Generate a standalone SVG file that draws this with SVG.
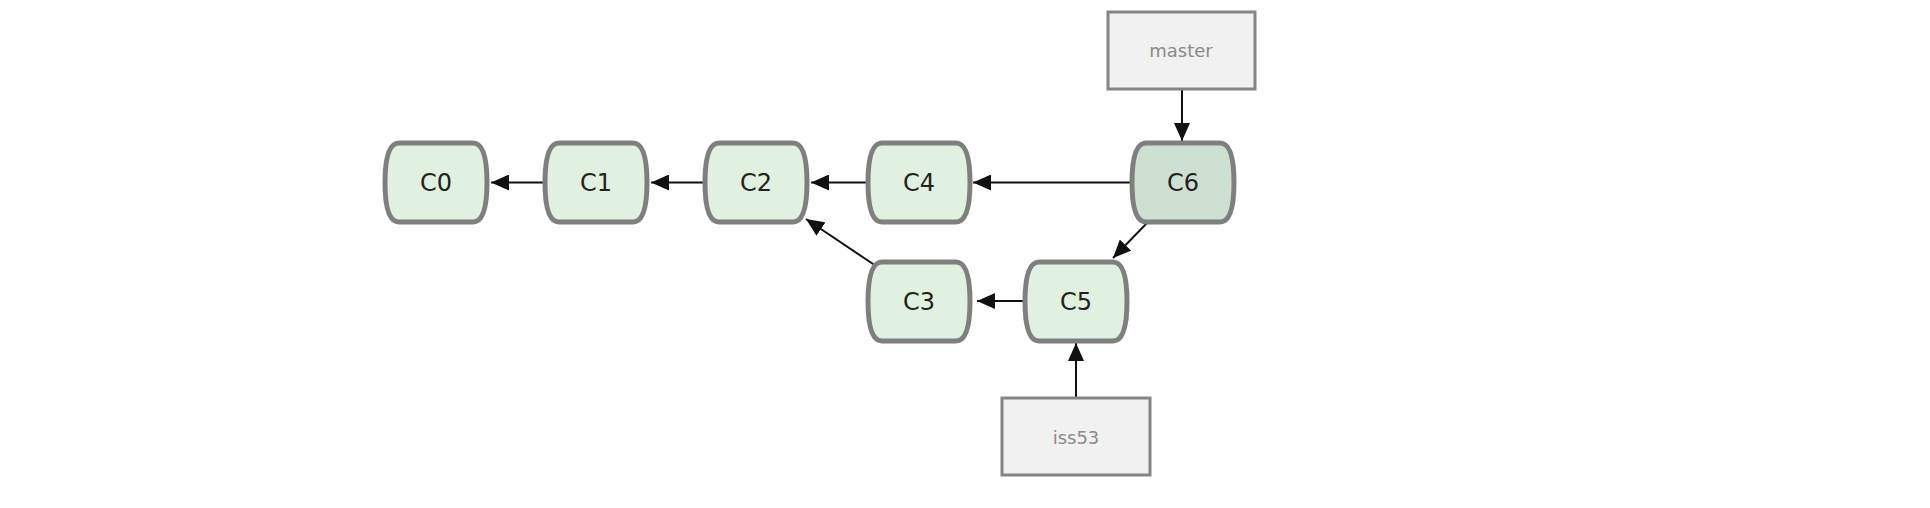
<svg xmlns="http://www.w3.org/2000/svg" width="1930" height="508" viewBox="0 0 1930 508">
<style>
.commit{fill:#e0f1df;stroke:#7f7f7f;stroke-width:5}
.head{fill:#cee0d2}
.ref{fill:#f1f1f1;stroke:#858585;stroke-width:3}
.ct{font-family:"DejaVu Sans",Verdana,sans-serif;font-size:24px;fill:#222;text-anchor:middle;dominant-baseline:central}
.rt{font-family:"DejaVu Sans",Verdana,sans-serif;font-size:18px;fill:#8a8a8a;text-anchor:middle;dominant-baseline:central}
.edge{stroke:#111;stroke-width:2;fill:none;marker-end:url(#ah)}
</style>
<defs>
<marker id="ah" markerUnits="userSpaceOnUse" viewBox="0 0 18 16" refX="18" refY="8" markerWidth="18" markerHeight="16" orient="auto">
<path d="M0,0 L18,8 L0,16 z" fill="#111"/>
</marker>
<path id="shape" d="M14,0 H88 C98,0 102,14 102,39.5 C102,65 98,79 88,79 H14 C4,79 0,65 0,39.5 C0,14 4,0 14,0 Z"/>
</defs>
<rect width="1930" height="508" fill="#fff"/>
<g id="connectors">
<line class="edge" x1="545" y1="182.5" x2="491" y2="182.5"/>
<line class="edge" x1="705" y1="182.5" x2="651" y2="182.5"/>
<line class="edge" x1="867" y1="182.5" x2="811" y2="182.5"/>
<line class="edge" x1="1132" y1="182.5" x2="973" y2="182.5"/>
<line class="edge" x1="1182" y1="89" x2="1182" y2="141"/>
<line class="edge" x1="1148" y1="222" x2="1113" y2="258"/>
<line class="edge" x1="876" y1="266" x2="806" y2="219"/>
<line class="edge" x1="1025" y1="301" x2="977" y2="301"/>
<line class="edge" x1="1076" y1="398" x2="1076" y2="343"/>
</g>
<g id="C0"><use href="#shape" class="commit" x="385" y="143"/><text class="ct" x="436" y="183">C0</text></g>
<g id="C1"><use href="#shape" class="commit" x="545" y="143"/><text class="ct" x="596" y="183">C1</text></g>
<g id="C2"><use href="#shape" class="commit" x="705" y="143"/><text class="ct" x="756" y="183">C2</text></g>
<g id="C4"><use href="#shape" class="commit" x="868" y="143"/><text class="ct" x="919" y="183">C4</text></g>
<g id="C6"><use href="#shape" class="commit head" x="1132" y="143"/><text class="ct" x="1183" y="183">C6</text></g>
<g id="C3"><use href="#shape" class="commit" x="868" y="262"/><text class="ct" x="919" y="302">C3</text></g>
<g id="C5"><use href="#shape" class="commit" x="1025" y="262"/><text class="ct" x="1076" y="302">C5</text></g>
<g id="master"><rect class="ref" x="1108" y="12" width="147" height="77"/><text class="rt" x="1181" y="50">master</text></g>
<g id="iss53"><rect class="ref" x="1002" y="398" width="148" height="77"/><text class="rt" x="1076" y="437">iss53</text></g>
</svg>
